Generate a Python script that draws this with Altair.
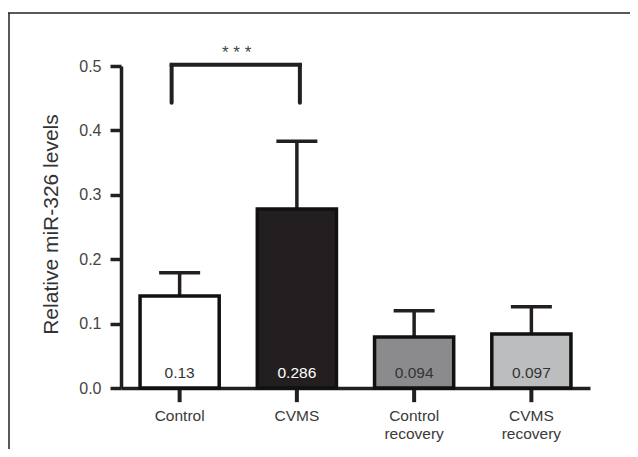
import altair as alt
import pandas as pd

groups = ["Control", "CVMS", "Control recovery", "CVMS recovery"]
means = [0.143, 0.278, 0.079, 0.084]
uppers = [0.179, 0.383, 0.120, 0.126]
value_labels = ["0.13", "0.286", "0.094", "0.097"]
fills = ["#ffffff", "#231f20", "#8b8b8d", "#bcbdbf"]
text_colors = ["#333333", "#ffffff", "#333333", "#333333"]

sig_pair = ["Control", "CVMS"]
sig_top = 0.502
sig_leg = 0.443
sig_text = "* * *"
sig_text_y = 0.520

df = pd.DataFrame({
    "group": groups,
    "mean": means,
    "upper": uppers,
    "label": value_labels,
    "fill": fills,
    "tcolor": text_colors,
    "zero": [0.0] * len(groups),
})

FONT = "Liberation Sans"
INK = "#231f20"

xscale = alt.Scale(domain=groups, paddingInner=0.325, paddingOuter=0.1625)
x = alt.X("group:N", sort=groups, scale=xscale,
          axis=alt.Axis(title=None, labelAngle=0, labelFont=FONT, labelFontSize=15.5,
                        labelColor="#3a3a3a", labelPadding=20, ticks=False,
                        domainColor=INK, domainWidth=3.5,
                        labelExpr="split(datum.label, ' ')", labelLineHeight=18))
y = alt.Y("mean:Q", scale=alt.Scale(domain=[0, 0.5], nice=False, zero=True),
          axis=alt.Axis(title="Relative miR-326 levels", values=[0, 0.1, 0.2, 0.3, 0.4, 0.5],
                        format=".1f", grid=False, labelFont=FONT, labelFontSize=16,
                        labelColor="#444444", labelPadding=9, ticks=True, tickSize=11,
                        tickWidth=3.5, tickColor=INK, domainColor=INK, domainWidth=3.5,
                        titleFont=FONT, titleFontSize=21, titleFontWeight="normal",
                        titleColor="#333333", titleAngle=-90, titleX=-64, titleY=158,
                        titleAlign="center", titleBaseline="alphabetic"))

base = alt.Chart(df)

# downward category ticks below the x axis
xticks = base.mark_rule(color=INK, strokeWidth=4).encode(
    x=x, y=alt.Y("zero:Q"), y2=alt.datum(-0.022))
err = base.mark_rule(color=INK, strokeWidth=3.5).encode(x=x, y=y, y2="upper:Q")
caps = base.mark_tick(color=INK, size=41, thickness=3.5, opacity=1).encode(x=x, y=alt.Y("upper:Q"))
bars = base.mark_bar(stroke="#111111", strokeWidth=3.5).encode(
    x=x, y=y, fill=alt.Fill("fill:N", scale=None))
txt = base.mark_text(font=FONT, fontSize=15.5, baseline="middle", dy=-15).encode(
    x=x, y=alt.Y("zero:Q"), text="label:N", color=alt.Color("tcolor:N", scale=None))

sig_df = pd.DataFrame({"a": [sig_pair[0]], "b": [sig_pair[1]], "top": [sig_top],
                       "leg": [sig_leg], "t": [sig_text], "ty": [sig_text_y]})
sb = alt.Chart(sig_df)
xa = alt.X("a:N", sort=groups, scale=xscale)
xb = alt.X("b:N", sort=groups, scale=xscale)
leg_left = sb.mark_rule(color=INK, strokeWidth=4, strokeCap="round", xOffset=-8).encode(
    x=xa, y=alt.Y("leg:Q"), y2="top:Q")
leg_right = sb.mark_rule(color=INK, strokeWidth=4, strokeCap="round", xOffset=3).encode(
    x=xb, y=alt.Y("leg:Q"), y2="top:Q")
bar_top = sb.mark_rule(color=INK, strokeWidth=4, strokeCap="square", xOffset=-8, x2Offset=3).encode(
    x=xa, x2="b:N", y=alt.Y("top:Q"))
stars = sb.mark_text(font=FONT, fontSize=17, color="#444444", baseline="middle", dx=57).encode(
    x=xa, y=alt.Y("ty:Q"), text="t:N")

frame_top = alt.Chart(pd.DataFrame({"k": [0]})).mark_rule(color="#222222", strokeWidth=1.5).encode(
    x=alt.value(-113), x2=alt.value(520), y=alt.value(-53))
frame_left = alt.Chart(pd.DataFrame({"k": [0]})).mark_rule(color="#222222", strokeWidth=1.5).encode(
    x=alt.value(-112), y=alt.value(-53), y2=alt.value(400))

chart = alt.layer(xticks, err, caps, bars, txt, leg_left, leg_right, bar_top, stars,
                  frame_top, frame_left).properties(
    width=469, height=322,
    autosize=alt.AutoSizeParams(type="none"),
    padding={"left": 113, "top": 58, "right": 40, "bottom": 61},
    background="white",
).configure_view(stroke=None)

chart.save("out.html", embed_options={"renderer": "svg", "actions": False})
